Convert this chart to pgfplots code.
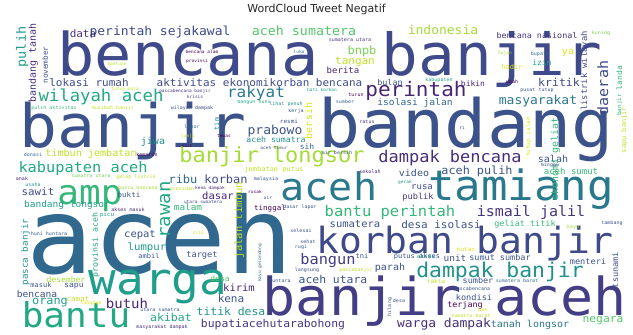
\documentclass[border=0pt]{standalone}
\usepackage{fontspec}
\usepackage{pgfplots}
\pgfplotsset{compat=1.18}
\newfontfamily\wc{DejaVu Sans Mono}
\newfontfamily\ttl{DejaVu Sans}
\definecolor{c1}{HTML}{482475}
\definecolor{c1b}{HTML}{472D7B}
\definecolor{c2}{HTML}{46337E}
\definecolor{c3}{HTML}{3F4A8A}
\definecolor{c3b}{HTML}{433E85}
\definecolor{c4}{HTML}{3B528B}
\definecolor{c5}{HTML}{31688E}
\definecolor{c6}{HTML}{2A788E}
\definecolor{c7}{HTML}{21918C}
\definecolor{c8}{HTML}{1F9E89}
\definecolor{c9}{HTML}{22A884}
\definecolor{c10}{HTML}{35B779}
\definecolor{c11}{HTML}{54C568}
\definecolor{c12}{HTML}{7AD151}
\definecolor{c13}{HTML}{A5DB36}
\definecolor{c14}{HTML}{C2DF23}
\definecolor{c15}{HTML}{DDE318}
\definecolor{c16}{HTML}{440154}
\begin{document}
\begin{tikzpicture}
\begin{axis}[
  width=633pt, height=335pt, scale only axis,
  xmin=0, xmax=633, ymin=0, ymax=335,
  enlargelimits=false,
  hide axis, clip=false,
  title={WordCloud Tweet Negatif},
  title style={at={(axis description cs:0.5,1)}, anchor=north, yshift=-10pt, inner sep=0pt,
    font=\ttl\fontsize{11}{12}\selectfont, text=black!85},
]
\addplot[draw=none, mark=none, forget plot] coordinates {(0,0) (633,335)};
\addplot[only marks, mark=none, nodes near coords, point meta=explicit symbolic,
  visualization depends on={value \thisrow{s} \as \wfs},
  visualization depends on={value \thisrow{r} \as \wrot},
  visualization depends on={value \thisrow{c} \as \wcol},
  every node near coord/.style={anchor=base, inner sep=0pt, outer sep=0pt,
    rotate=\wrot, yscale=0.95, text=\wcol, font=\wc\fontsize{\wfs}{\wfs}\selectfont},
] table[col sep=comma, row sep=\\, x=x, y=y, meta=w] {
x,y,s,r,c,w\\
188,259,62,0,c3,bencana\\
492,259,61,0,c3,banjir\\
133,187,63,0,c4,banjir\\
466,187,70,0,c4,bandang\\
160,61,111,0,c5,aceh\\
329,134,40,0,c6,aceh\\
521,134,44,0,c6,tamiang\\
465,81,38,0,c3,korban banjir\\
445,19,55,0,c3b,banjir aceh\\
158,40,46,0,c8,warga\\
76,7,36,0,c9,bantu\\
90,130,36,0,c10,amp\\
416,238,21,0,c1,perintah\\
450,172,17,0,c1b,dampak bencana\\
272,172,22,0,c13,banjir longsor\\
500,57,21.4,0,c7,dampak banjir\\
101,233,17.3,0,c9,wilayah aceh\\
83,162,15.3,0,c9,kabupaten aceh\\
390,118,15.5,0,c10,bantu perintah\\
531,118,15,0,c2,ismail jalil\\
256,237,16,0,c6,rakyat\\
304,299,13.3,0,c11,aceh sumatera\\
443,300,13,0,c13,indonesia\\
160,299,13,0,c3,perintah sejakawal\\
538,230,13,0,c6,masyarakat\\
275,200,13,0,c4,prabowo\\
127,26,14,0,c1,butuh\\
328,70,15.3,0,c3b,bangun\\
444,7,13,0,c1b,warga dampak\\
441,106,11,0,c4,desa isolasi\\
89,248,11,0,c3,lokasi rumah\\
213,248,11,0,c3,aktivitas ekonomi\\
316,248,11,0,c3,korban bencana\\
477,160,11.8,0,c4,aceh pulih\\
559,248,11.5,0,c3,kritik\\
91,178,10.1,0,c14,timbun jembatan\\
183,151,12,0,c5,ribu\\
226,151,12,0,c3,korban\\
38,139,10.8,0,c3,sawit\\
218,135,10.5,0,c1,dasar\\
67,127,9.5,0,c8,bandang longsor\\
188,124,9.4,0,c10,malam\\
140,97,10.5,0,c4,cepat\\
147,84,10.7,0,c8,lumpur\\
202,77,8.7,0,c4,target\\
37,37,9.6,0,c4,bencana\\
50,30,11.9,0,c8,orang\\
171,13,11.5,0,c9,akibat\\
231,19,11.4,0,c7,titik desa\\
273,7,11.4,0,c2,bupatiacehutarabohong\\
355,107,10.5,0,c4,sumatera\\
390,64,10,0,c4,parah\\
333,51,11.4,0,c4,aceh utara\\
239,43,10.5,0,c1,kirim\\
231,32,11,0,c4,kena\\
530,7,10,0,c6,tanah longsor\\
603,12,11.3,0,c11,negara\\
455,73,9.5,0,c4,unit\\
500,74,8.5,0,c4,sumut sumbar\\
588,70,8.6,0,c4,menteri\\
478,51,8.5,0,c4,sumber\\
474,34,8.6,0,c4,kondisi\\
465,27,8.4,0,c16,terjang\\
525,108,8.5,0,c10,geliat titik\\
553,172,10,0,c4,salah\\
571,160,9,0,c10,aceh sumut\\
414,158,10,0,c4,video\\
422,145,9,0,c3,rusa\\
418,135,8.7,0,c2,publik\\
415,229,9.6,0,c5,isolasi jalan\\
537,296,8.4,0,c2,bencana nasional\\
343,261,9,0,c1,berita\\
390,249,8.4,0,c4,bulan\\
362,280,12,0,c12,bnpb\\
355,270,11,0,c14,tangan\\
83,297,11,0,c2,data\\
473,248,8,0,c1,bikin\\
542,269,8,0,c8,izin\\
568,280,10,0,c15,ya\\
512,265,7,0,c15,hadir\\
153,190,10,0,c7,jiwa\\
276,192,8.2,0,c7,aceh sumatra\\
307,185,8,0,c5,sih\\
274,163,7,0,c14,jembatan putus\\
270,124,7.5,0,c16,tinggal\\
129,137,7.5,0,c4,bukti\\
362,76,7,0,c4,tni\\
417,76,7,0,c4,putus akses\\
26,288,13.5,90,c8,pulih\\
36,272,10,90,c1b,bandang tanah\\
48,270,7.7,90,c4,november\\
587,264,8.8,90,c3,listrik wilayah\\
608,247,15,90,c3,daerah\\
622,257,8,90,c10,landa\\
621,230,6,90,c10,banjir\\
626,205,7,90,c14,sapu banjir\\
170,125,19,90,c9,rawan\\
242,115,10.6,90,c14,jalan timbun\\
98,90,8.3,90,c9,provinsi aceh\\
28,83,9.2,90,c7,pasca banjir\\
558,176,9.9,90,c10,ekonomi geliat\\
312,214,10,90,c15,bersih\\
618,65,8.6,90,c4,tsunami\\
219,211,7,90,c7,tim\\
261,72,4.5,90,c5,kayu gelondong\\
391,28,5,90,c4,hilang\\
530,198,6,90,c15,tutup jalan\\
202,281,4.5,0,c16,bencana alam\\
197,272,4.5,0,c16,provinsi\\
117,269,4.5,0,c14,bantuan\\
125,244,4.5,0,c14,tutup mata\\
185,242,4.5,0,c2,pascabencana banjir\\
195,236,4.5,0,c2,krisis\\
54,225,5,0,c10,pulih aktivitas\\
113,225,5,0,c14,musibah banjir\\
192,225,5,0,c3,wilayah dampak\\
350,293,5,0,c2,sumatera utara\\
299,281,4.5,0,c6,luka\\
322,243,4.5,0,c8,hati korban\\
356,238,5,0,c16,turun\\
345,231,5,0,c5,sumber\\
254,231,5,0,c9,bangun huni\\
286,229,5,0,c7,lihat penuh\\
296,222,5,0,c4,kerja\\
289,211,6,0,c4,resmi\\
367,211,5,0,c2,ratus\\
601,300,5,0,c12,kuning\\
540,279,5,0,c5,bupati\\
505,280,4.5,0,c13,hujan\\
439,253,5,0,c8,kabupaten\\
512,251,5,0,c16,ubah\\
537,243,5,0,c4,pusat tutup\\
192,206,5,0,c5,lapor\\
188,197,4.5,0,c14,janji\\
224,197,4.5,0,c16,tewas\\
187,187,4.5,0,c16,kait\\
33,178,5,0,c5,donasi\\
147,178,5,0,c16,kemarin\\
274,185,4.5,0,c4,aceh timur\\
337,180,5,0,c4,air bersih\\
91,157,5,0,c12,sumatra utara\\
136,156,5,0,c14,gelap listrik\\
22,154,5,0,c1,anak\\
33,148,5,0,c7,usaha\\
182,144,5,0,c14,presiden\\
138,145,5,0,c13,pasca bencana\\
210,145,4.5,0,c1,kena dampak\\
203,131,4.5,0,c3,utara sumatera\\
128,123,5,0,c1,akses masuk\\
266,154,5,0,c4,malaysia\\
255,141,4.5,0,c16,rusak\\
268,135,4.5,0,c4,air\\
300,126,5,0,c4,dasar lapor\\
370,161,5,0,c1,sekolah\\
405,151,4.5,0,c7,gerak\\
550,168,5,0,c4,minggu\\
462,205,4.5,0,c2,ri\\
49,99,5,0,c4,huni huntara\\
107,118,6,0,c8,picu\\
198,100,4.5,0,c15,sita\\
149,76,7,0,c4,ambil\\
66,52,8,0,c13,desember\\
41,47,7,0,c4,masuk\\
74,47,8,0,c4,sapu\\
78,33,7.5,0,c14,camat\\
91,30,5,0,c15,tanggap\\
160,23,5,0,c4,utara sumatra\\
162,6,5,0,c2,masyarakat dampak\\
220,53,8,0,c11,desa\\
301,102,5,0,c4,selesai\\
308,91,5,0,c4,sehat\\
301,86,5,0,c5,rugi\\
307,63,5,0,c4,langsung\\
356,63,5,0,c14,pascabanjir\\
280,52,5,0,c4,huntara\\
466,83,6,0,c15,hutan\\
426,76,6,0,c7,akses\\
436,51,6,0,c14,fakta\\
517,52,5,0,c5,sumatera barat\\
472,44,5,0,c4,pascabencana\\
483,23,5,0,c15,pan\\
471,17,5,0,c14,sumatra barat\\
612,110,5,0,c4,tambang\\
573,106,5,0,c13,kayu\\
399,32,5,0,c4,desa\\
};
\end{axis}
\end{tikzpicture}
\end{document}
